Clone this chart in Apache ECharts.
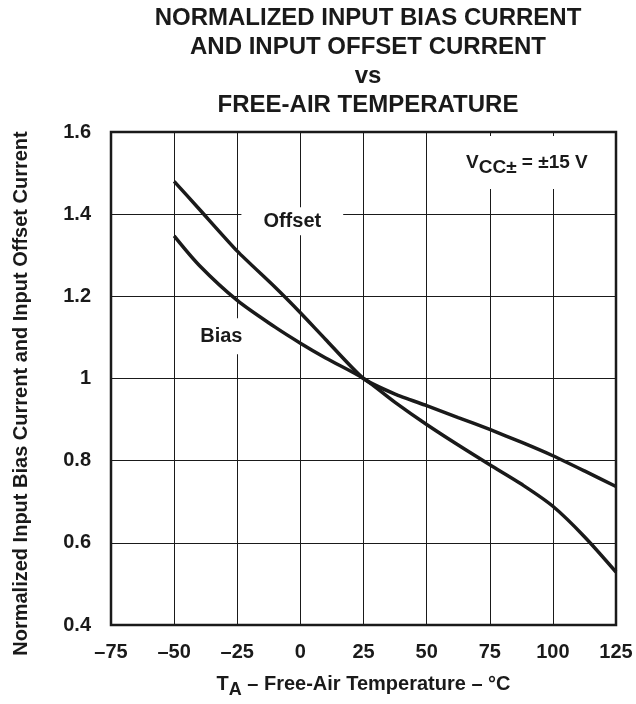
<!DOCTYPE html>
<html>
<head>
<meta charset="utf-8">
<script src="https://cdn.jsdelivr.net/npm/echarts@6/dist/echarts.min.js"></script>
<style>
  html, body { margin: 0; padding: 0; background: #fff; }
  #chart { width: 636px; height: 704px; }
</style>
</head>
<body>
<div id="chart"></div>
<script>
var dom = document.getElementById('chart');
var myChart = echarts.init(dom);

// temperature points (°C)
var temps = [-50, -40, -25, -10, 0, 10, 25, 37.5, 50, 62.5, 75, 87.5, 100, 112.5, 125];
var offsetVals = [1.48, 1.412, 1.31, 1.222, 1.16, 1.095, 1.0, 0.962, 0.934, 0.905, 0.876, 0.845, 0.812, 0.775, 0.737];
var biasVals = [1.347, 1.275, 1.19, 1.125, 1.086, 1.05, 1.0, 0.942, 0.888, 0.838, 0.79, 0.743, 0.689, 0.615, 0.529];

var xTicks = [-75, -50, -25, 0, 25, 50, 75, 100, 125];
var yTicks = [0.4, 0.6, 0.8, 1, 1.2, 1.4, 1.6];

function pairs(xs, ys) {
    var out = [];
    for (var i = 0; i < xs.length; i++) out.push([xs[i], ys[i]]);
    return out;
}

var font = 'Liberation Sans, Arial, Helvetica, sans-serif';
var ink = '#1a1a1a';

var option = {
    animation: false,
    backgroundColor: '#fff',
    textStyle: { fontFamily: font },
    title: {
        text: 'NORMALIZED INPUT BIAS CURRENT\nAND INPUT OFFSET CURRENT\nvs\nFREE-AIR TEMPERATURE',
        left: 363,
        top: -1,
        textAlign: 'center',
        textStyle: {
            fontFamily: font,
            fontSize: 24,
            fontWeight: 'bold',
            color: ink,
            lineHeight: 29
        }
    },
    grid: {
        left: 111,
        right: 20,
        top: 132,
        bottom: 70,
        show: true,
        borderColor: ink,
        borderWidth: 2.5,
        backgroundColor: 'transparent'
    },
    xAxis: {
        type: 'value',
        min: -75,
        max: 125,
        interval: 25,
        axisLine: { show: false },
        axisTick: { show: false },
        splitLine: { show: true, lineStyle: { color: ink, width: 1 } },
        axisLabel: {
            margin: 17,
            fontSize: 20,
            fontWeight: 'bold',
            color: ink,
            formatter: function (v) {
                return xTicks.indexOf(v) < 0 ? '' : String(v).replace('-', '\u2013');
            }
        },
        name: '{t|T}{s|A}{t| \u2013 Free-Air Temperature \u2013 \u00b0C}',
        nameLocation: 'middle',
        nameGap: 44,
        nameTextStyle: {
            rich: {
                t: { fontFamily: font, fontSize: 20, fontWeight: 'bold', color: ink },
                s: { fontFamily: font, fontSize: 18, fontWeight: 'bold', color: ink, padding: [12, 0, 0, 0] }
            }
        }
    },
    yAxis: {
        type: 'value',
        min: 0.4,
        max: 1.6,
        interval: 0.2,
        axisLine: { show: false },
        axisTick: { show: false },
        splitLine: { show: true, lineStyle: { color: ink, width: 1 } },
        axisLabel: {
            margin: 20,
            fontSize: 20,
            fontWeight: 'bold',
            color: ink,
            formatter: function (v) {
                var r = Math.round(v * 10) / 10;
                return yTicks.indexOf(r) < 0 ? '' : String(r);
            }
        },
        name: 'Normalized Input Bias Current and Input Offset Current',
        nameLocation: 'middle',
        nameGap: 80,
        nameTextStyle: {
            fontFamily: font,
            fontSize: 20,
            fontWeight: 'bold',
            color: ink,
            padding: [0, 30, 0, 0]
        }
    },
    series: [
        {
            name: 'Offset',
            type: 'line',
            data: pairs(temps, offsetVals),
            smooth: 0.2,
            showSymbol: false,
            lineStyle: { color: ink, width: 3.5 },
            z: 3,
            markPoint: {
                symbol: 'rect',
                symbolSize: 1,
                itemStyle: { color: 'rgba(0,0,0,0)' },
                data: [
                    {
                        coord: [-3.2, 1.383],
                        label: {
                            show: true,
                            position: 'inside',
                            formatter: 'Offset',
                            fontFamily: font,
                            fontSize: 20,
                            fontWeight: 'bold',
                            color: ink,
                            backgroundColor: '#fff',
                            padding: [4, 22, 4, 22]
                        }
                    },
                    {
                        coord: [89.7, 1.526],
                        label: {
                            show: true,
                            position: 'inside',
                            formatter: '{v|V}{s|CC\u00b1}{v| = \u00b115 V}',
                            backgroundColor: '#fff',
                            padding: [12, 6, 12, 6],
                            rich: {
                                v: { fontFamily: font, fontSize: 19, fontWeight: 'bold', color: ink },
                                s: { fontFamily: font, fontSize: 19, fontWeight: 'bold', color: ink, padding: [10, 0, 0, 0] }
                            }
                        }
                    }
                ]
            }
        },
        {
            name: 'Bias',
            type: 'line',
            data: pairs(temps, biasVals),
            smooth: 0.3,
            showSymbol: false,
            lineStyle: { color: ink, width: 3.5 },
            z: 3,
            markPoint: {
                symbol: 'rect',
                symbolSize: 1,
                itemStyle: { color: 'rgba(0,0,0,0)' },
                data: [
                    {
                        coord: [-31.3, 1.103],
                        label: {
                            show: true,
                            position: 'inside',
                            formatter: 'Bias',
                            fontFamily: font,
                            fontSize: 20,
                            fontWeight: 'bold',
                            color: ink,
                            backgroundColor: '#fff',
                            padding: [8, 4, 8, 4]
                        }
                    }
                ]
            }
        }
    ]
};

if (option && typeof option === 'object') {
    myChart.setOption(option, true);
}
</script>
</body>
</html>
